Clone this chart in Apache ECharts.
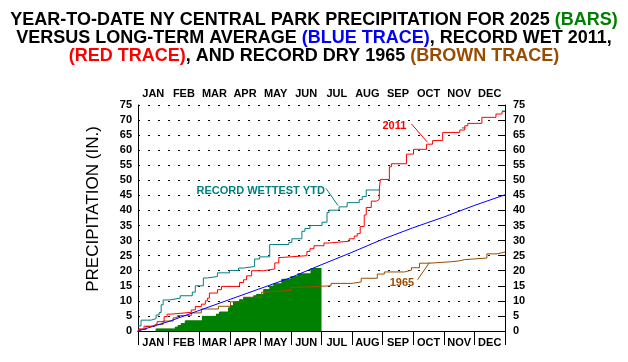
<!DOCTYPE html>
<html><head><meta charset="utf-8">
<script src="https://cdn.jsdelivr.net/npm/echarts@6/dist/echarts.min.js"></script>
<style>html,body{margin:0;padding:0;background:#fff}#c{width:628px;height:362px}</style>
</head><body><div id="c"></div>
<script>
// ---- data (day of year, cumulative inches) ----
const months = ['JAN','FEB','MAR','APR','MAY','JUN','JUL','AUG','SEP','OCT','NOV','DEC'];
const lastDay2025 = 181;
// 2025 daily cumulative totals, given as the days when the total changed
const steps2025 = [[18,0.8],[37,1.4],[40,2.0],[43,2.6],[47,3.5],[64,5.0],[78,5.7],[81,6.4],[90,7.8],[92,8.5],[95,9.8],[101,10.5],[105,11.2],[115,11.8],[118,12.3],[125,13.9],[131,15.0],[135,15.8],[143,17.3],[152,18.2],[159,19.1],[172,20.9]];
const normalCum = [[0,0],[31,3.2],[59,6.6],[90,10.3],[120,13.9],[151,17.6],[181,21.8],[212,26.0],[243,30.4],[273,34.2],[304,37.8],[334,41.6],[365,45.2]];
const wet2011 = [[0,0],[1,0.7],[6,1.6],[13,2.0],[19,3.1],[26,4.8],[29,5.6],[33,6.2],[53,7.0],[57,8.1],[63,8.9],[67,10.0],[69,10.9],[71,12.6],[79,13.7],[83,14.8],[101,16.1],[105,17.0],[108,18.3],[113,20.0],[125,20.6],[136,22.6],[140,24.4],[143,25.0],[168,26.4],[171,27.3],[175,28.3],[185,29.2],[190,29.8],[210,30.6],[215,31.5],[218,32.3],[221,34.7],[225,38.5],[227,41.0],[232,43.1],[237,43.7],[240,47.0],[241,50.3],[250,54.5],[252,55.5],[267,58.7],[274,60.3],[287,62.0],[293,63.2],[303,65.9],[320,66.7],[325,68.1],[328,68.9],[342,70.9],[356,72.0],[362,72.8],[365,72.8]];
// record wettest year-to-date; where it equals 2011 it is hidden under the red trace ('-' = gap)
const recordYTD = [[0,1.7],[3,3.6],[13,4.1],[18,5.3],[21,6.1],[23,8.7],[25,10.3],[31,10.9],[42,11.7],[54,12.9],[57,15.0],[65,17.6],[69,18.1],[79,19.3],[91,20.1],[100,20.9],[105,21.4],[116,23.9],[121,24.6],[131,28.7],[150,29.4],[153,30.6],[163,33.1],[166,34.0],[171,35.0],[183,36.1],[188,39.3],[190,40.1],[200,41.2],[208,42.6],[220,43.6],[223,44.6],[227,46.8],[240,47.0],[241,'-'],[322,67.4],[325,67.4],[326,'-'],[362,73.0],[365,73.0]];
const dry1965 = [[0,0.5],[8,1.5],[17,2.2],[25,3.3],[35,4.4],[39,5.1],[53,6.0],[63,7.3],[80,8.2],[92,9.7],[105,11.2],[123,12.9],[128,13.5],[152,14.5],[160,15.0],[192,15.8],[213,16.3],[222,17.5],[238,18.9],[245,19.6],[265,20.2],[272,21.0],[280,22.5],[290,23.0],[312,23.3],[320,23.7],[325,24.2],[347,25.6],[357,26.2],[365,26.2]];

// ---- build daily bar table from the change days ----
function dailyBars(steps, lastDay){
  const out=[]; let v=0, j=0;
  for(let d=0; d<=lastDay; d++){
    while(j<steps.length && steps[j][0]<=d){ v=steps[j][1]; j++; }
    out.push([d+0.5, v]);
  }
  return out;
}

const FONT='Liberation Sans';
const GREEN='#008000', BLUE='#0000ff', RED='#ff0000', BROWN='#994c00', TEAL='#008080';
const chart = echarts.init(document.getElementById('c'), null, {renderer:'canvas'});
const tStyle = {fontFamily:FONT, fontWeight:'bold', fontSize:18, color:'#000'};
const rich = {
  k:{...tStyle}, g:{...tStyle,color:GREEN}, b:{...tStyle,color:BLUE},
  r:{...tStyle,color:RED}, br:{...tStyle,color:BROWN}
};
const lbl = {fontFamily:FONT, fontWeight:'bold', fontSize:11, color:'#000'};
const axisLine = {show:true, lineStyle:{color:'#000', width:1}};

chart.setOption({
  animation:false,
  backgroundColor:'#fff',
  title:[
    {left:'center', top:6, text:'{k|YEAR-TO-DATE NY CENTRAL PARK PRECIPITATION FOR 2025 }{g|(BARS)}', textStyle:{rich}},
    {left:'center', top:24, text:'{k|VERSUS LONG-TERM AVERAGE }{b|(BLUE TRACE)}{k|, RECORD WET 2011,}', textStyle:{rich}},
    {left:'center', top:42, text:'{r|(RED TRACE)}{k|, AND RECORD DRY 1965 }{br|(BROWN TRACE)}', textStyle:{rich}}
  ],
  grid:{left:138, right:123, top:105, bottom:31, containLabel:false},
  xAxis:[
    {type:'category', data:months, position:'bottom', boundaryGap:true,
     axisLine, axisTick:{show:true, interval:0, inside:false, length:8, lineStyle:{color:'#000'}},
     axisLabel:{...lbl, interval:0, margin:6}, splitLine:{show:false}},
    {type:'category', data:months, position:'top', boundaryGap:true,
     axisLine, axisTick:{show:true, interval:0, inside:true, length:14, lineStyle:{color:'#000'}},
     axisLabel:{...lbl, interval:0, margin:6}, splitLine:{show:false}},
    {type:'value', min:0, max:365, show:false}
  ],
  yAxis:[
    {type:'value', min:0, max:75, interval:5, position:'left',
     name:'PRECIPITATION (IN.)', nameLocation:'middle', nameGap:36,
     nameTextStyle:{fontFamily:FONT, fontSize:17, color:'#000', padding:[0,0,0,18]},
     axisLine, axisTick:{show:false},
     axisLabel:{...lbl, margin:6},
     splitLine:{show:true, lineStyle:{color:'#000', width:1, type:[2,8]}}},
    {type:'value', min:0, max:75, interval:5, position:'right',
     axisLine, axisTick:{show:true, inside:true, length:5, lineStyle:{color:'#000'}},
     axisLabel:{...lbl, margin:8}, splitLine:{show:false}}
  ],
  series:[
    {type:'bar', name:'2025', xAxisIndex:2, yAxisIndex:0, data:dailyBars(steps2025, lastDay2025),
     barWidth:2, itemStyle:{color:GREEN}, silent:true},
    {type:'line', name:'1965', xAxisIndex:2, yAxisIndex:0, data:dry1965, step:'end', symbol:'none',
     lineStyle:{color:BROWN, width:1}, silent:true},
    {type:'line', name:'Normal', xAxisIndex:2, yAxisIndex:0, data:normalCum, symbol:'none',
     lineStyle:{color:BLUE, width:1}, silent:true},
    {type:'line', name:'Record YTD', xAxisIndex:2, yAxisIndex:0, data:recordYTD, step:'end', symbol:'none',
     connectNulls:false, lineStyle:{color:TEAL, width:1}, silent:true},
    {type:'line', name:'2011', xAxisIndex:2, yAxisIndex:0, data:wet2011, step:'end', symbol:'none',
     lineStyle:{color:RED, width:1}, silent:true}
  ]
});

// ---- annotations placed through the data scales ----
function px(d,v){ return chart.convertToPixel({xAxisIndex:2, yAxisIndex:0}, [d,v]); }
const notes = [
  {text:'RECORD WETTEST YTD', color:TEAL, at:[122,46.6], from:[187,47.3], to:[199,41.6]},
  {text:'2011', color:RED, at:[255,68.0], from:[272,68.7], to:[288,62.6]},
  {text:'1965', color:BROWN, at:[262.5,16.0], from:[278,17.0], to:[290,22.8]}
];
const g = [];
notes.forEach(n=>{
  const a = px(...n.at), f = px(...n.from), t = px(...n.to);
  g.push({type:'text', x:a[0], y:a[1], style:{text:n.text, fill:n.color, font:'bold 11px "'+FONT+'"', align:'center', verticalAlign:'middle'}, z:100});
  g.push({type:'line', shape:{x1:f[0], y1:f[1], x2:t[0], y2:t[1]}, style:{stroke:n.color, lineWidth:1}, z:100});
});
chart.setOption({graphic:g});
</script></body></html>
